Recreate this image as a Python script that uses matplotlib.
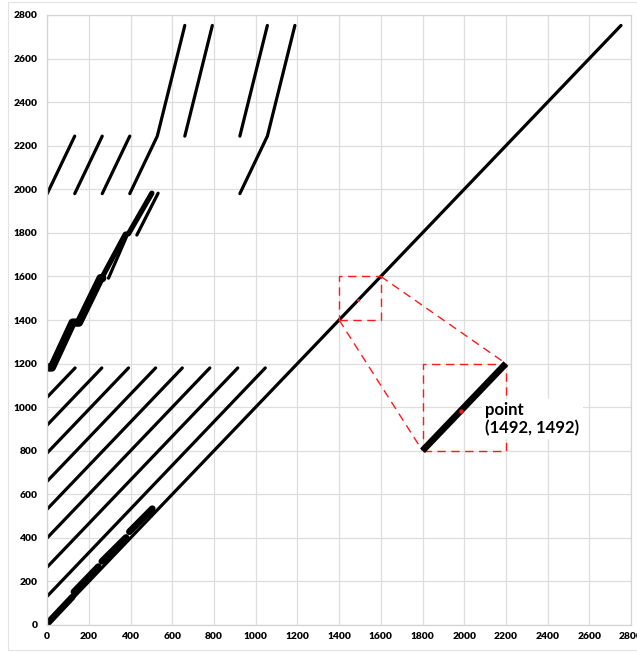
import matplotlib
matplotlib.use("Agg")
import matplotlib.pyplot as plt
from matplotlib.patches import Rectangle

# ---- data ----
diag_x = [0, 2752]
diag_y = [0, 2752]

# lower family of slope-1 lines (x list, y list)
lower_lines = [
    ([0, 134], [1046, 1180]),
    ([0, 262], [918, 1180]),
    ([0, 390], [790, 1180]),
    ([0, 520], [660, 1180]),
    ([0, 648], [532, 1180]),
    ([0, 780], [400, 1180]),
    ([0, 914], [266, 1180]),
    ([0, 1046], [132, 1180]),
]

# thick short pieces hugging the diagonal
diag_pieces = [
    ([2, 120], [8, 128]),
    ([128, 245], [152, 268]),
    ([262, 378], [292, 402]),
    ([394, 504], [428, 534]),
]

# middle band (thick polyline and companion lines)
mid_band_x = [2, 22, 122, 152, 256, 264]
mid_band_y = [1182, 1182, 1388, 1388, 1592, 1592]
mid_main_x = [262, 375, 390, 502]
mid_main_y = [1594, 1794, 1796, 1982]
mid_thin = [
    ([294, 382], [1592, 1786]),
    ([430, 532], [1790, 1982]),
]

# upper family of steep lines
upper_lines = [
    ([0, 132], [1980, 2244]),
    ([132, 264], [1980, 2244]),
    ([264, 396], [1980, 2244]),
    ([396, 528, 660], [1980, 2244, 2752]),
    ([660, 792], [2244, 2752]),
    ([924, 1056], [2244, 2752]),
    ([924, 1056, 1188], [1980, 2244, 2752]),
]

# zoom illustration
small_box = (1400, 1400, 200, 200)
big_box = (1800, 800, 400, 400)
zoom_seg_x = [1800, 2200]
zoom_seg_y = [800, 1200]
connector1 = ([1400, 1800], [1400, 800])
connector2 = ([1600, 2200], [1600, 1200])
point_xy = (1492, 1492)
point_zoom_xy = (1984, 984)
label_text = "point\n(1492, 1492)"

x_ticks = list(range(0, 2801, 200))
y_ticks = list(range(0, 2801, 200))

# ---- drawing ----
fig = plt.figure(figsize=(6.37, 6.52), dpi=100)
ax = fig.add_axes([47.2 / 637, (652 - 625) / 652, (631 - 47.2) / 637, (625 - 15) / 652])

# chart-area border
fig.patches.append(Rectangle((8 / 637, 2 / 652), 1.0, 648 / 652, transform=fig.transFigure,
                             fill=False, edgecolor="#e3e3e3", lw=0.8))

lw = 2.3
kw = dict(color="black", solid_capstyle="round", solid_joinstyle="round")
ax.plot(diag_x, diag_y, lw=lw, **kw)
for xs, ys in lower_lines:
    ax.plot(xs, ys, lw=lw, **kw)
for xs, ys in diag_pieces:
    ax.plot(xs, ys, lw=4.8, **kw)
ax.plot(mid_band_x, mid_band_y, lw=6.0, **kw)
ax.plot(mid_main_x, mid_main_y, lw=3.8, **kw)
for xs, ys in mid_thin:
    ax.plot(xs, ys, lw=lw, **kw)
for xs, ys in upper_lines:
    ax.plot(xs, ys, lw=lw, **kw)

red = "#ff1a1a"
dash = (0, (6, 4))
for (x0, y0, w, h) in (small_box, big_box):
    ax.add_patch(Rectangle((x0, y0), w, h, fill=False, edgecolor=red, lw=1.0,
                           linestyle=dash, zorder=3))
for xs, ys in (connector1, connector2):
    ax.plot(xs, ys, color=red, lw=1.0, linestyle=dash, zorder=3)
ax.plot(zoom_seg_x, zoom_seg_y, color="black", lw=4.8, solid_capstyle="butt", zorder=4)
ax.plot(*point_xy, "o", color=red, ms=2.2, mec="none", zorder=5)
ax.plot(*point_zoom_xy, "o", color=red, ms=3.2, mec="none", zorder=5)

ax.text(2100, 945, label_text, fontsize=12, fontweight="bold", family="Lato",
        ha="left", va="center", linespacing=1.12, color="black",
        bbox=dict(facecolor="white", edgecolor="none", boxstyle="square,pad=0.2"), zorder=6)

ax.set_xlim(0, 2800)
ax.set_ylim(0, 2800)
ax.set_xticks(x_ticks)
ax.set_yticks(y_ticks)
ax.set_xticklabels([str(v) for v in x_ticks])
ax.set_yticklabels([str(v) for v in y_ticks])
for lab in ax.get_xticklabels() + ax.get_yticklabels():
    lab.set_fontfamily("Lato")
    lab.set_fontweight("heavy")
    lab.set_fontsize(7.4)
ax.tick_params(axis="both", length=0)
ax.tick_params(axis="y", pad=7)
ax.tick_params(axis="x", pad=5)
ax.grid(True, color="#dedede", lw=0.9)
ax.set_axisbelow(True)
for s in ax.spines.values():
    s.set_color("#d4d4d4")
    s.set_linewidth(0.9)

fig.savefig("out.png", dpi=100)
